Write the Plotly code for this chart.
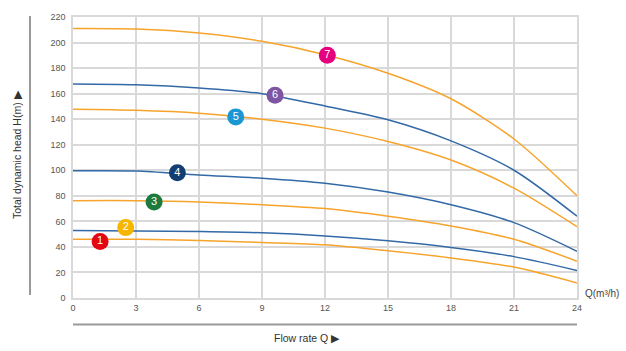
import plotly.graph_objects as go

flow = [0, 3, 6, 9, 12, 15, 18, 21, 24]
head_1 = [45.9, 45.9, 45.0, 43.5, 41.7, 37.0, 31.4, 24.2, 11.8]
head_2 = [52.8, 52.5, 52.0, 51.0, 48.6, 44.8, 39.6, 32.4, 21.6]
head_3 = [76.2, 76.2, 75.2, 73.0, 70.0, 64.0, 56.4, 46.0, 28.8]
head_4 = [99.6, 99.4, 96.3, 93.7, 89.8, 82.9, 73.0, 59.0, 36.6]
head_5 = [147.8, 147.0, 144.7, 140.0, 133.0, 122.5, 108.0, 86.0, 55.8]
head_6 = [167.6, 167.0, 164.5, 160.0, 150.3, 139.5, 123.0, 100.0, 64.0]
head_7 = [211.0, 210.6, 207.5, 201.0, 190.5, 176.0, 156.0, 124.5, 80.0]

badge_labels = ["1", "2", "3", "4", "5", "6", "7"]
badge_x = [1.29, 2.51, 3.86, 4.97, 7.75, 9.62, 12.11]
badge_y = [44.2, 55.1, 75.2, 98.0, 141.8, 158.7, 190.1]
badge_colors = ["#e30613", "#f7b500", "#1d7a3e", "#143e72", "#1b97d3", "#7d55a2", "#e5007e"]

x_ticks = [0, 3, 6, 9, 12, 15, 18, 21, 24]
y_ticks = [0, 20, 40, 60, 80, 100, 120, 140, 160, 180, 200, 220]

ORANGE = "#f6a42c"
BLUE = "#3369a6"

curves = [head_1, head_2, head_3, head_4, head_5, head_6, head_7]
line_colors = [ORANGE, BLUE, ORANGE, BLUE, ORANGE, BLUE, ORANGE]

fig = go.Figure()
for h, c in zip(curves, line_colors):
    fig.add_trace(go.Scatter(x=flow, y=h, mode="lines", line=dict(color=c, width=1.5, shape="spline", smoothing=0.8),
                             hoverinfo="skip", showlegend=False))

fig.add_trace(go.Scatter(
    x=badge_x, y=badge_y, mode="markers+text", text=badge_labels,
    textposition="middle center",
    textfont=dict(family="Arial, Liberation Sans, sans-serif", size=11, color="white"),
    marker=dict(size=17, color=badge_colors, line=dict(width=0)),
    showlegend=False, hoverinfo="skip"))

grid = "#d9d9d9"
fig.update_xaxes(range=[0, 24], tickvals=x_ticks, ticktext=[str(v) for v in x_ticks],
                 showgrid=True, gridcolor=grid, gridwidth=1.5, zeroline=False,
                 showline=True, mirror=True, linecolor=grid, linewidth=1.5,
                 ticks="", tickfont=dict(size=9, color="#555", family="Arial, Liberation Sans, sans-serif"))
fig.update_yaxes(range=[0, 220], tickvals=y_ticks, ticktext=[str(v) for v in y_ticks],
                 showgrid=True, gridcolor=grid, gridwidth=1.5, zeroline=False,
                 showline=True, mirror=True, linecolor=grid, linewidth=1.5,
                 ticks="", ticklabelstandoff=4,
                 tickfont=dict(size=9, color="#555", family="Arial, Liberation Sans, sans-serif"))

fig.add_shape(type="line", xref="paper", yref="paper", x0=-0.0853, x1=-0.0853, y0=0.0105, y1=1.0035,
              line=dict(color="#9a9a9a", width=2))
fig.add_shape(type="line", xref="paper", yref="paper", x0=0, x1=1, y0=-0.0947, y1=-0.0947,
              line=dict(color="#9a9a9a", width=2))

font = "Arial, Liberation Sans, sans-serif"
fig.add_annotation(xref="paper", yref="paper", x=(17 - 73) / 504, y=(298 - 153) / 285,
                   text="Total dynamic head H(m) \u25B6", textangle=-90, showarrow=False,
                   font=dict(size=10.5, color="#333", family=font), xanchor="center", yanchor="middle")
fig.add_annotation(xref="paper", yref="paper", x=(307 - 73) / 504, y=(298 - 339) / 285,
                   text="Flow rate Q \u25B6", showarrow=False,
                   font=dict(size=10.5, color="#333", family=font), xanchor="center", yanchor="middle")
fig.add_annotation(xref="paper", yref="paper", x=(583 - 73) / 504, y=(298 - 293) / 285,
                   text="Q(m\u00b3/h)", showarrow=False,
                   font=dict(size=10, color="#444", family=font), xanchor="left", yanchor="middle")

fig.update_layout(width=626, height=351, margin=dict(l=73, r=49, t=13, b=53),
                  plot_bgcolor="white", paper_bgcolor="white", showlegend=False)

fig.write_html("out.html")
